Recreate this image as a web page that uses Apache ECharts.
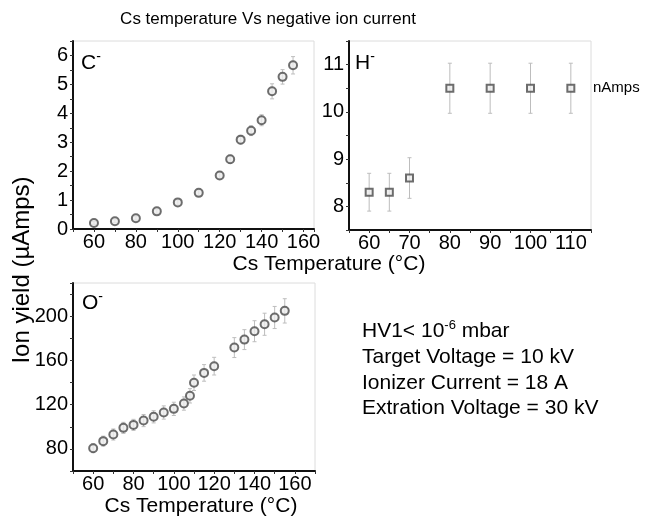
<!DOCTYPE html>
<html>
<head>
<meta charset="utf-8">
<script src="https://cdn.jsdelivr.net/npm/echarts@6/dist/echarts.min.js"></script>
<style>
  html, body { margin: 0; padding: 0; background: #fff; }
  #chart { width: 652px; height: 520px; }
</style>
</head>
<body>
<div id="chart"></div>
<script>
// C- panel (µAmps)
const cTemp = [60, 70, 80, 90, 100, 110, 120, 125, 130, 135, 140, 145, 150, 155]
const cYield = [0.21, 0.27, 0.37, 0.61, 0.92, 1.25, 1.85, 2.41, 3.09, 3.40, 3.76, 4.76, 5.26, 5.66]
const cErr = [0.05, 0.05, 0.06, 0.07, 0.08, 0.1, 0.12, 0.14, 0.15, 0.17, 0.19, 0.26, 0.25, 0.3]
const cXLabels = [60, 80, 100, 120, 140, 160]
const cYLabels = [0, 1, 2, 3, 4, 5, 6]

// H- panel (nAmps)
const hTemp = [60, 65, 70, 80, 90, 100, 110]
const hYield = [8.3, 8.3, 8.6, 10.5, 10.5, 10.5, 10.5]
const hErr = [0.4, 0.4, 0.43, 0.53, 0.53, 0.53, 0.53]
const hXLabels = [60, 70, 80, 90, 100, 110]
const hYLabels = [8, 9, 10, 11]

// O- panel (µAmps)
const oTemp = [60, 65, 70, 75, 80, 85, 90, 95, 100, 105, 108, 110, 115, 120, 130, 135, 140, 145, 150, 155]
const oYield = [80.6, 87, 93, 99, 101.7, 105.6, 109, 112.9, 116.2, 121, 128, 139.8, 148.7, 154.8, 171.6, 178.8, 186.4, 192.7, 198.8, 204.8]
const oErr = [4, 4.5, 5, 5, 5, 5.5, 5.5, 6, 6, 6, 6.5, 7, 7.5, 8, 9, 9, 9.5, 10, 10, 11]
const oXLabels = [60, 80, 100, 120, 140, 160]
const oYLabels = [80, 120, 160, 200]

const FONT = '"Liberation Sans", Arial, sans-serif'

const chart = echarts.init(document.getElementById('chart'))

const onlyLabels = (list) => (v) => (list.indexOf(Math.round(v * 100) / 100) >= 0 ? String(v) : '')

const makeAxis = (min, max, interval, labels, isX) => ({
  type: 'value',
  min: min,
  max: max,
  interval: interval,
  axisLine: { show: true, onZero: false, lineStyle: { color: '#111', width: 2 } },
  axisTick: { show: true, inside: false, length: 3, lineStyle: { color: '#333', width: 1 } },
  axisLabel: {
    fontFamily: FONT,
    fontSize: 20,
    color: '#000',
    margin: isX ? 3 : 5,
    showMinLabel: true,
    showMaxLabel: true,
    formatter: onlyLabels(labels)
  },
  splitLine: { show: false }
})

const errorBars = (temps, vals, errs, idx) => ({
  type: 'custom',
  xAxisIndex: idx,
  yAxisIndex: idx,
  silent: true,
  z: 1,
  data: temps.map((t, i) => [t, vals[i] - errs[i], vals[i] + errs[i]]),
  renderItem: (params, api) => {
    const lo = api.coord([api.value(0), api.value(1)])
    const hi = api.coord([api.value(0), api.value(2)])
    const st = { stroke: '#bdbdbd', lineWidth: 1 }
    return {
      type: 'group',
      children: [
        { type: 'line', shape: { x1: lo[0], y1: lo[1], x2: hi[0], y2: hi[1] }, style: st },
        { type: 'line', shape: { x1: lo[0] - 2, y1: lo[1], x2: lo[0] + 2, y2: lo[1] }, style: st },
        { type: 'line', shape: { x1: hi[0] - 2, y1: hi[1], x2: hi[0] + 2, y2: hi[1] }, style: st }
      ]
    }
  }
})

const points = (temps, vals, idx, symbol, size) => ({
  type: 'scatter',
  xAxisIndex: idx,
  yAxisIndex: idx,
  z: 3,
  symbol: symbol,
  symbolSize: size,
  itemStyle: { color: '#ececec', borderColor: '#4a4a4a', borderWidth: 2 },
  data: temps.map((t, i) => [t, vals[i]])
})

const label = (x, y, txt, size, align) => ({
  type: 'text',
  x: x,
  y: y,
  silent: true,
  style: {
    text: txt,
    fontFamily: FONT,
    fontSize: size,
    fill: '#000',
    textAlign: align || 'left',
    textVerticalAlign: 'middle'
  }
})

const supLabel = (x, y, main, sup, size, supSize) => ({
  type: 'text',
  x: x,
  y: y,
  silent: true,
  style: {
    text: '{m|' + main + '}{s|' + sup + '}',
    textAlign: 'left',
    textVerticalAlign: 'middle',
    rich: {
      m: { fontFamily: FONT, fontSize: size, color: '#000', lineHeight: size + 4 },
      s: { fontFamily: FONT, fontSize: supSize, color: '#000', verticalAlign: 'top', lineHeight: supSize }
    }
  }
})

const option = {
  backgroundColor: '#fff',
  animation: false,
  grid: [
    { left: 73, top: 41, width: 241, height: 188, show: true, borderColor: '#dcdcdc', borderWidth: 1 },
    { left: 349, top: 41, width: 242, height: 189, show: true, borderColor: '#dcdcdc', borderWidth: 1 },
    { left: 73, top: 283, width: 242, height: 188, show: true, borderColor: '#dcdcdc', borderWidth: 1 }
  ],
  xAxis: [
    Object.assign(makeAxis(50, 165, 10, cXLabels, true), { gridIndex: 0 }),
    Object.assign(makeAxis(55, 115, 5, hXLabels, true), { gridIndex: 1 }),
    Object.assign(makeAxis(50, 170, 10, oXLabels, true), { gridIndex: 2 })
  ],
  yAxis: [
    Object.assign(makeAxis(0, 6.5, 0.5, cYLabels, false), { gridIndex: 0 }),
    Object.assign(makeAxis(7.5, 11.5, 0.5, hYLabels, false), { gridIndex: 1 }),
    Object.assign(makeAxis(60, 230, 20, oYLabels, false), { gridIndex: 2 })
  ],
  series: [
    errorBars(cTemp, cYield, cErr, 0),
    points(cTemp, cYield, 0, 'circle', 8),
    errorBars(hTemp, hYield, hErr, 1),
    points(hTemp, hYield, 1, 'rect', 7),
    errorBars(oTemp, oYield, oErr, 2),
    points(oTemp, oYield, 2, 'circle', 8)
  ],
  graphic: [
    label(268, 19, 'Cs temperature Vs negative ion current', 17, 'center'),
    supLabel(81, 63, 'C', '-', 21, 14),
    supLabel(355, 63, 'H', '-', 21, 14),
    supLabel(82, 303, 'O', '-', 21, 14),
    label(593, 88, 'nAmps', 15),
    label(329, 264, 'Cs Temperature (°C)', 21, 'center'),
    label(201, 506, 'Cs Temperature (°C)', 21, 'center'),
    {
      type: 'text',
      x: 22,
      y: 270,
      rotation: Math.PI / 2,
      silent: true,
      style: { text: 'Ion yield (µAmps)', fontFamily: FONT, fontSize: 24, fill: '#000', textAlign: 'center', textVerticalAlign: 'middle' }
    },
    {
      type: 'text',
      x: 362,
      y: 331,
      silent: true,
      style: {
        text: '{m|HV1< 10}{s|-6}{m| mbar}',
        textAlign: 'left',
        textVerticalAlign: 'middle',
        rich: {
          m: { fontFamily: FONT, fontSize: 21, color: '#000', lineHeight: 24 },
          s: { fontFamily: FONT, fontSize: 13, color: '#000', verticalAlign: 'top', lineHeight: 13 }
        }
      }
    },
    label(362, 357, 'Target Voltage = 10 kV', 21),
    label(362, 383, 'Ionizer Current = 18 A', 21),
    label(362, 408, 'Extration Voltage = 30 kV', 21)
  ]
}

chart.setOption(option)
</script>
</body>
</html>
